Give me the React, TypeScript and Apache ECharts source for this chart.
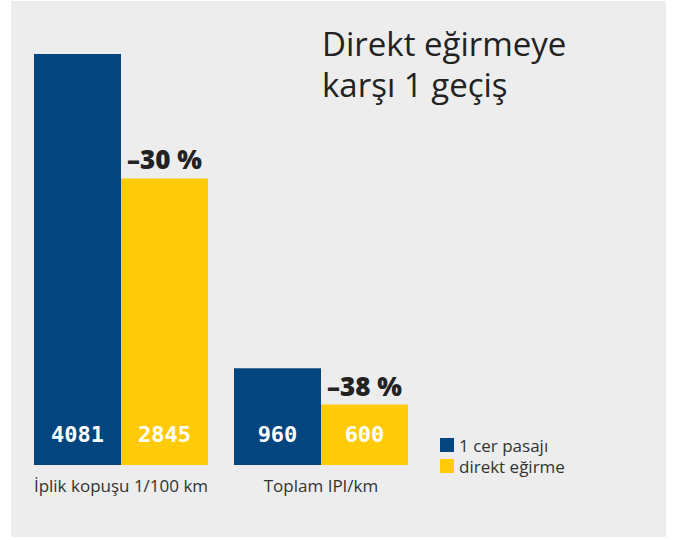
import React, { useEffect, useRef } from "react";
import * as echarts from "echarts";

const categories = ["İplik kopuşu 1/100 km", "Toplam IPI/km"];
const seriesNames = ["1 cer pasajı", "direkt eğirme"];
const passValues = [4081, 960];
const directValues = [2845, 600];
const changeLabels = ["–30 %", "–38 %"];
const titleLines = ["Direkt eğirmeye", "karşı 1 geçiş"];

const BLUE = "#03467f";
const YELLOW = "#ffcb08";

export default function App() {
  const ref = useRef<HTMLDivElement>(null);
  useEffect(() => {
    if (!ref.current) return;
    const chart = echarts.init(ref.current, null, { renderer: "svg" });
    const valueLabel = {
      show: true,
      position: "insideBottom",
      distance: 20,
      color: "#ffffff",
      fontFamily: "DejaVu Sans Mono",
      fontWeight: "bold",
      fontSize: 22,
    };
    chart.setOption({
      animation: false,
      backgroundColor: "#ffffff",
      graphic: [
        {
          type: "rect",
          z: -10,
          shape: { x: 11, y: 1, width: 655, height: 536 },
          style: { fill: "#ededed" },
        },
        {
          type: "text",
          x: 322,
          y: 23,
          style: {
            text: titleLines.join("\n"),
            fill: "#222222",
            font: "33px 'Open Sans'",
            lineHeight: 41,
          },
        },
      ],
      legend: {
        data: seriesNames,
        orient: "vertical",
        left: 435,
        top: 431,
        itemWidth: 14,
        itemHeight: 14,
        itemGap: 3,
        icon: "rect",
        textStyle: {
          color: "#333333",
          fontSize: 17,
          lineHeight: 18,
          fontFamily: "Open Sans",
        },
      },
      grid: { left: 21, width: 400, top: 54, bottom: 75 },
      xAxis: [
        {
          type: "category",
          data: categories,
          axisLine: { show: false },
          axisTick: { show: false },
          axisLabel: {
            interval: 0,
            color: "#333333",
            fontSize: 17,
            fontFamily: "Open Sans",
            margin: 12,
          },
        },
        {
          type: "category",
          data: categories,
          show: false,
        },
      ],
      yAxis: {
        type: "value",
        min: 0,
        max: 4081,
        show: false,
        splitLine: { show: false },
      },
      series: [
        {
          name: seriesNames[0],
          type: "bar",
          data: passValues,
          barGap: "0%",
          barCategoryGap: "13%",
          itemStyle: { color: BLUE },
          label: valueLabel,
        },
        {
          name: seriesNames[1],
          type: "bar",
          data: directValues,
          barGap: "0%",
          barCategoryGap: "13%",
          itemStyle: { color: YELLOW },
          label: valueLabel,
        },
        {
          name: "ghost1",
          type: "bar",
          xAxisIndex: 1,
          data: passValues,
          barGap: "0%",
          barCategoryGap: "13%",
          itemStyle: { color: "rgba(0,0,0,0)" },
          silent: true,
        },
        {
          name: "ghost2",
          type: "bar",
          xAxisIndex: 1,
          data: directValues,
          barGap: "0%",
          barCategoryGap: "13%",
          itemStyle: { color: "rgba(0,0,0,0)" },
          silent: true,
          label: {
            show: true,
            position: "top",
            distance: 6,
            color: "#222222",
            fontFamily: "Open Sans",
            fontWeight: 800,
            fontSize: 26,
            formatter: (p: any) => changeLabels[p.dataIndex],
          },
        },
      ],
    });
    return () => chart.dispose();
  }, []);
  return (
    <div
      ref={ref}
      style={{ position: "absolute", left: 0, top: 0, width: 681, height: 540 }}
    />
  );
}
